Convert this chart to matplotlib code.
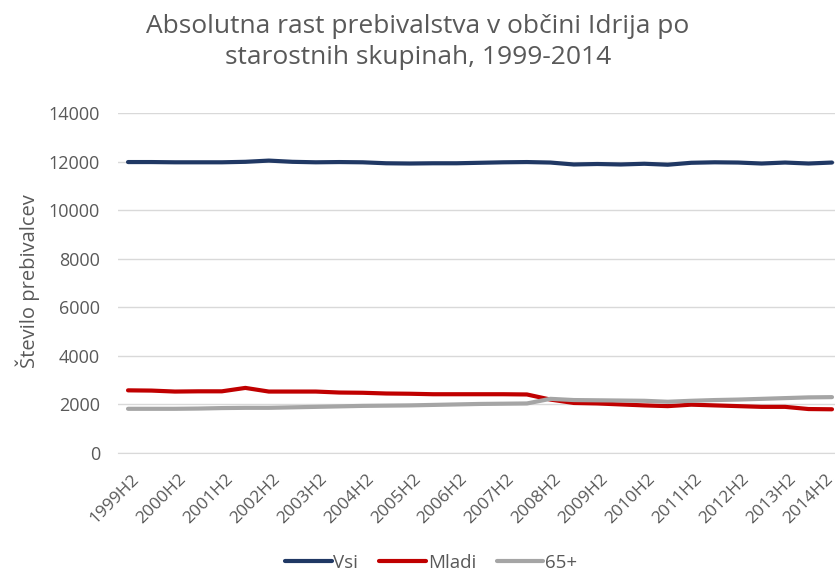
import matplotlib
matplotlib.use("Agg")
import matplotlib.pyplot as plt
from matplotlib.transforms import ScaledTranslation

# half-year periods, 1999H2 .. 2014H2
periods = []
for year in range(1999, 2015):
    if year > 1999:
        periods.append(f"{year}H1")
    periods.append(f"{year}H2")

vsi = [11980, 11980, 11970, 11970, 11970, 11990, 12040, 11990, 11970, 11980, 11970,
       11930, 11920, 11930, 11930, 11950, 11970, 11980, 11960, 11880, 11900, 11880,
       11910, 11870, 11950, 11970, 11960, 11920, 11960, 11920, 11960]
mladi = [2580, 2570, 2530, 2540, 2540, 2680, 2530, 2530, 2530, 2490, 2480,
         2450, 2440, 2420, 2420, 2420, 2420, 2410, 2200, 2060, 2040, 2000,
         1960, 1930, 1990, 1960, 1930, 1900, 1900, 1810, 1800]
starejsi = [1820, 1820, 1820, 1830, 1850, 1860, 1860, 1880, 1900, 1920, 1940,
            1950, 1960, 1980, 2000, 2020, 2030, 2040, 2230, 2180, 2170, 2160,
            2150, 2110, 2150, 2180, 2200, 2230, 2260, 2290, 2300]

series = [("Vsi", vsi, "#203864"), ("Mladi", mladi, "#C00000"), ("65+", starejsi, "#A5A5A5")]

plt.rcParams['font.family'] = ['Open Sans', 'DejaVu Sans']
grey = "#595959"

fig = plt.figure(figsize=(8.35, 5.72), dpi=100)
ax = fig.add_axes([118 / 835, 119 / 572, 717 / 835, 340 / 572])

x = list(range(len(periods)))
for name, vals, col in series:
    ax.plot(x, vals, color=col, linewidth=3.0, label=name, solid_capstyle="round")

ax.set_xlim(-10 / 23.4, len(periods) - 1 + 3 / 23.4)
ax.set_ylim(0, 14000)
ax.set_yticks(range(0, 14001, 2000))
ax.set_xticks(x[::2])
ax.set_xticklabels(periods[::2], rotation=45, ha="right", rotation_mode="anchor")

ax.grid(axis="y", color="#D9D9D9", linewidth=1)
ax.set_axisbelow(True)
for s in ["top", "right", "left"]:
    ax.spines[s].set_visible(False)
ax.spines["bottom"].set_color("#D9D9D9")
ax.tick_params(axis="both", length=0, colors=grey)
ax.tick_params(axis="y", labelsize=13, pad=13)
ax.tick_params(axis="x", labelsize=12.5, pad=13)
labels = ax.get_xticklabels()
for i, lab in enumerate(labels):
    # last label pulled in so it stays inside the picture, like the original
    dx = 3 if i < len(labels) - 1 else -7
    lab.set_transform(lab.get_transform() + ScaledTranslation(dx / 100, 0, fig.dpi_scale_trans))

fig.text(28 / 835, 1 - 281 / 572, "Število prebivalcev", rotation=90, fontsize=14.5,
         color=grey, ha="center", va="center")

fig.text(418 / 835, 1 - 42 / 572,
         "Absolutna rast prebivalstva v občini Idrija po\nstarostnih skupinah, 1999-2014",
         fontsize=19, color=grey, ha="center", va="center", linespacing=1.3)

fig.legend(loc="center", bbox_to_anchor=(431 / 835, 1 - 563 / 572), ncol=3, frameon=False,
           fontsize=13.5, handlelength=2.5, handletextpad=0.1, columnspacing=1.1,
           labelcolor=grey, borderaxespad=0, borderpad=0)

fig.savefig("out.png", dpi=100)
